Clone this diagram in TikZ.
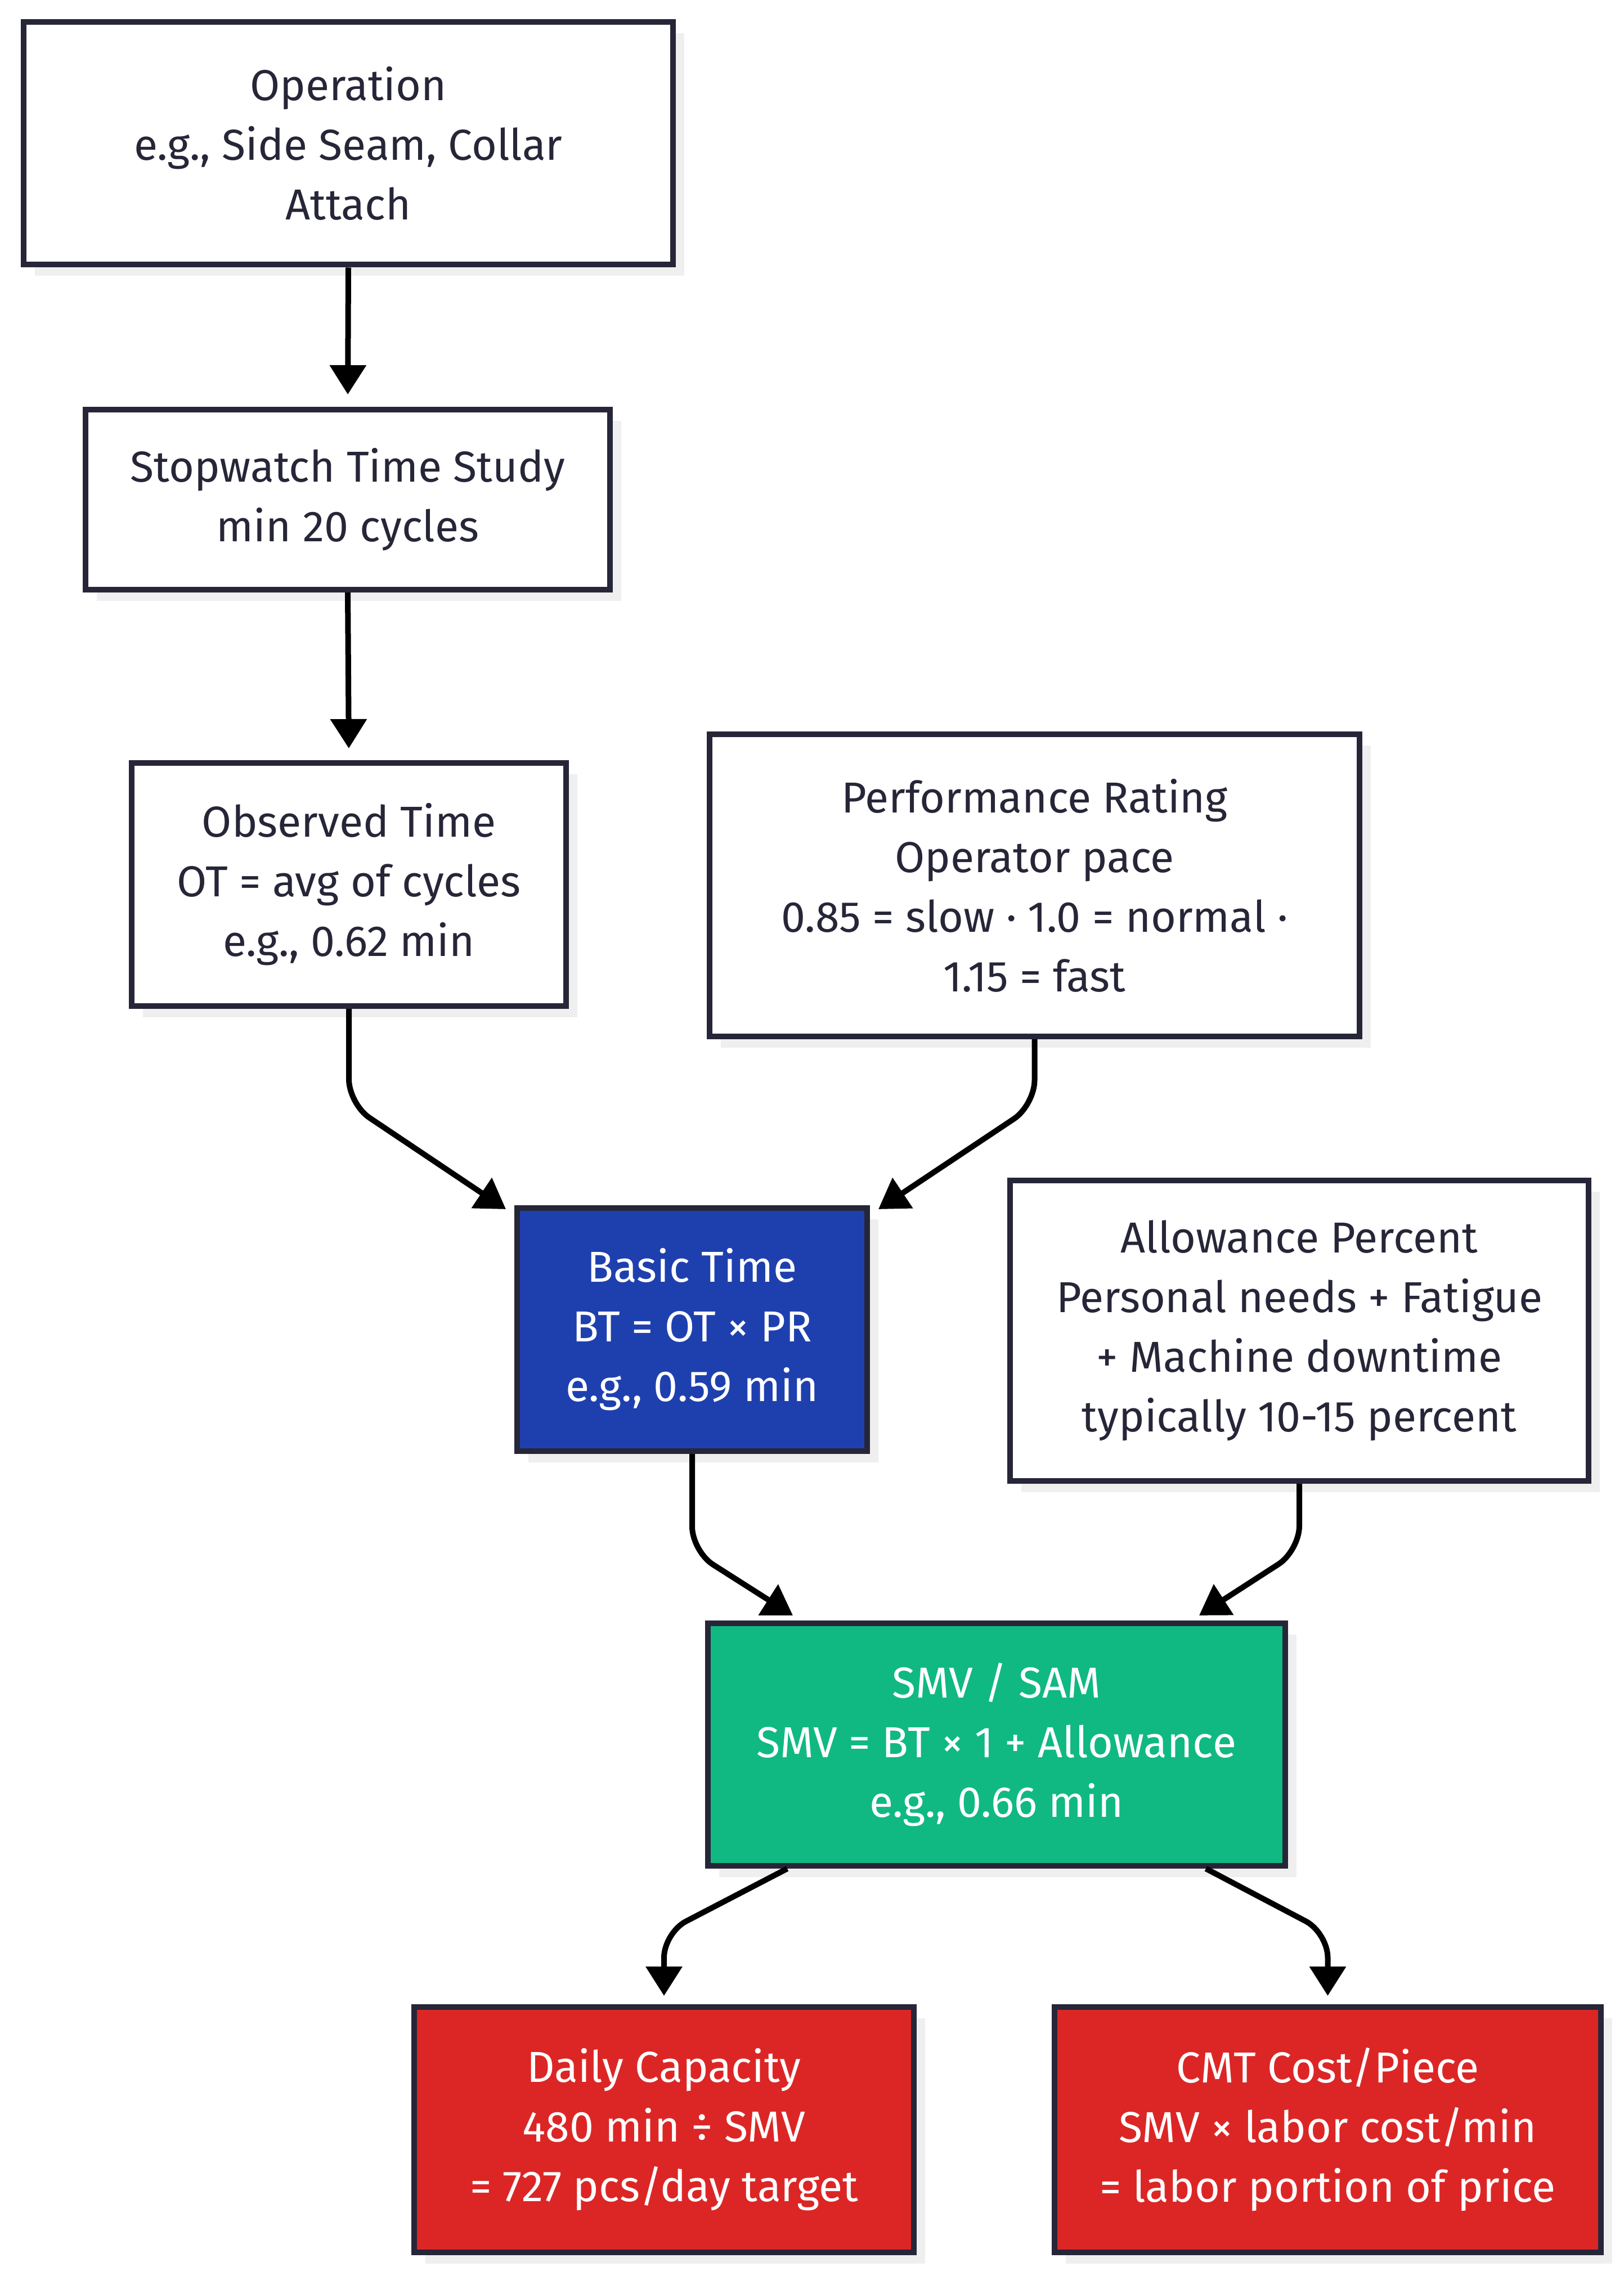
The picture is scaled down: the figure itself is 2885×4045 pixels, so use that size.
\documentclass[tikz,border=0pt]{standalone}
\usepackage{fontspec}
\setmainfont{Fira Sans}
\usetikzlibrary{arrows.meta,shadows}
\definecolor{navy}{HTML}{262638}
\definecolor{blueF}{HTML}{1E40AF}
\definecolor{greenF}{HTML}{10B981}
\definecolor{redF}{HTML}{DC2626}
\definecolor{shad}{HTML}{EFEFEF}
\tikzset{
  box/.style={draw=navy, line width=2.5pt, fill=white, text=navy, align=center,
    inner sep=0pt, font=\fontsize{19.25}{26.5}\selectfont,
    drop shadow={shadow xshift=5pt, shadow yshift=-5pt, fill=shad, opacity=1}},
  bluebox/.style={box, fill=blueF, text=white},
  greenbox/.style={box, fill=greenF, text=white},
  redbox/.style={box, fill=redF, text=white},
  conn/.style={draw=black, line width=2.5pt, rounded corners=11pt,
    -{Triangle[length=13pt, width=15.75pt]}}
}
\begin{document}
\begin{tikzpicture}[x=0.25pt, y=-0.25pt]
\useasboundingbox[fill=white] (0,0) rectangle (2885,4045);

\node[box, minimum width=288.5pt, minimum height=107.75pt] (op) at (619,255)
  {Operation\\e.g., Side Seam, Collar\\Attach};
\node[box, minimum width=233pt, minimum height=80pt] (sw) at (618,888)
  {Stopwatch Time Study\\min 20 cycles};
\node[box, minimum width=193pt, minimum height=108pt] (ot) at (620,1572)
  {Observed Time\\OT = avg of cycles\\e.g., 0.62 min};
\node[box, minimum width=288.75pt, minimum height=134.25pt] (pr) at (1838.5,1573.5)
  {Performance Rating\\Operator pace\\0.85 = slow · 1.0 = normal ·\\1.15 = fast};
\node[bluebox, minimum width=155.5pt, minimum height=108pt] (bt) at (1230,2363)
  {Basic Time\\BT = OT × PR\\e.g., 0.59 min};
\node[box, minimum width=257pt, minimum height=133.5pt] (al) at (2309,2365)
  {Allowance Percent\\Personal needs + Fatigue\\+ Machine downtime\\typically 10-15 percent};
\node[greenbox, minimum width=256.5pt, minimum height=107.75pt] (smv) at (1771,3100.5)
  {SMV / SAM\\SMV = BT × 1 + Allowance\\e.g., 0.66 min};
\node[redbox, minimum width=222pt, minimum height=109pt] (dc) at (1180,3785)
  {Daily Capacity\\480 min ÷ SMV\\= 727 pcs/day target};
\node[redbox, minimum width=242.75pt, minimum height=109pt] (cmt) at (2359.5,3785)
  {CMT Cost/Piece\\SMV × labor cost/min\\= labor portion of price};

\coordinate (k1) at (620,1962);
\coordinate (k2) at (1838.5,1964);
\coordinate (k3) at (1230,2757);
\coordinate (k4) at (2309,2756);
\coordinate (k5) at (1180,3435);
\coordinate (k6) at (2359.5,3435);

\draw[conn, shorten >=5.5pt] (op.south) -- (sw.north);
\draw[conn, shorten >=5.25pt] (sw.south) -- (ot.north);
\draw[conn] (ot.south) -- (k1) -- ([xshift=-3.75pt, yshift=-1.75pt]bt.north west);
\draw[conn] (pr.south) -- (k2) -- ([xshift=3.75pt, yshift=-1.75pt]bt.north east);
\draw[conn] (bt.south) -- (k3) -- ([xshift=39pt, yshift=2.25pt]smv.north west);
\draw[conn] (al.south) -- (k4) -- ([xshift=-39.5pt, yshift=2.25pt]smv.north east);
\draw[conn, shorten >=3.75pt] ([xshift=-93pt]smv.south) -- (k5) -- (dc.north);
\draw[conn, shorten >=3.75pt] ([xshift=93pt]smv.south) -- (k6) -- (cmt.north);
\end{tikzpicture}
\end{document}
